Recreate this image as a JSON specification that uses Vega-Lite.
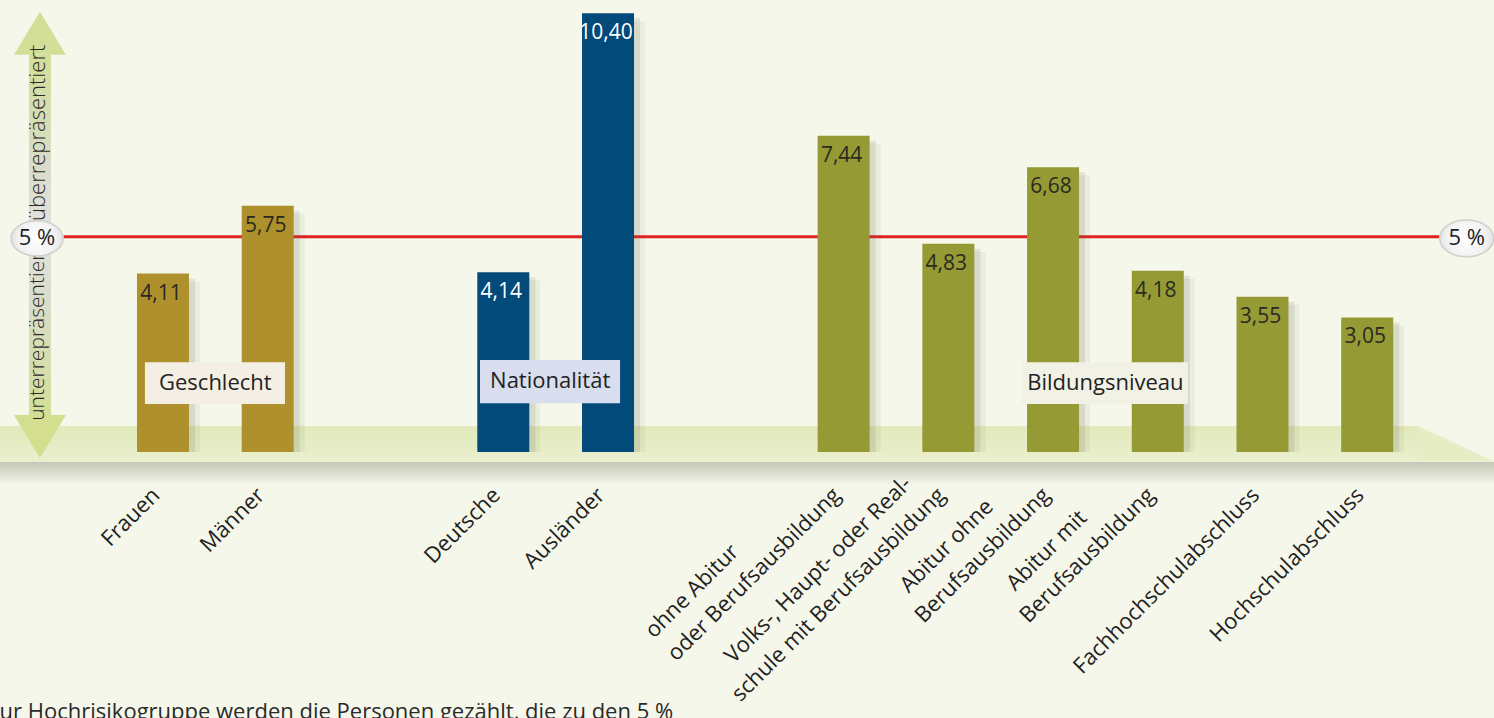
{
  "$schema": "https://vega.github.io/schema/vega-lite/v6.json",
  "width": 1466,
  "height": 452,
  "autosize": {"type": "none"},
  "padding": {"left": 19, "right": 9, "top": 0, "bottom": 266},
  "background": "#f5f7ea",
  "config": {
    "view": {"stroke": null},
    "font": "Open Sans",
    "axisY": {"disable": true},
    "locale": {"number": {"decimal": ",", "thousands": ".", "grouping": [3], "currency": ["", " €"]}}
  },
  "data": {"values": [
    {"kategorie": "Frauen", "wert": 4.11, "gruppe": "Geschlecht"},
    {"kategorie": "Männer", "wert": 5.75, "gruppe": "Geschlecht"},
    {"kategorie": "Deutsche", "wert": 4.14, "gruppe": "Nationalität"},
    {"kategorie": "Ausländer", "wert": 10.40, "gruppe": "Nationalität"},
    {"kategorie": "ohne Abitur\noder Berufsausbildung", "wert": 7.44, "gruppe": "Bildungsniveau"},
    {"kategorie": "Volks-, Haupt- oder Real-\nschule mit Berufsausbildung", "wert": 4.83, "gruppe": "Bildungsniveau"},
    {"kategorie": "Abitur ohne\nBerufsausbildung", "wert": 6.68, "gruppe": "Bildungsniveau"},
    {"kategorie": "Abitur mit\nBerufsausbildung", "wert": 4.18, "gruppe": "Bildungsniveau"},
    {"kategorie": "Fachhochschulabschluss", "wert": 3.55, "gruppe": "Bildungsniveau"},
    {"kategorie": "Hochschulabschluss", "wert": 3.05, "gruppe": "Bildungsniveau"}
  ]},
  "layer": [
    {
      "data": {"values": [{}]},
      "mark": {"type": "rect", "fill": {"gradient": "linear", "x1": 0, "y1": 0, "x2": 0, "y2": 1, "stops": [{"offset": 0, "color": "#c4c7b6"}, {"offset": 1, "color": "#f5f7ea"}]}},
      "encoding": {
        "x": {"datum": "_0", "type": "nominal", "bandPosition": -0.73},
        "x2": {"datum": "_55", "bandPosition": 1.4},
        "y": {"datum": -0.44, "type": "quantitative"},
        "y2": {"datum": -1.0}
      }
    },
    {
      "data": {"values": [{}]},
      "mark": {"type": "rect", "fill": {"gradient": "linear", "x1": 0, "y1": 0, "x2": 0, "y2": 1, "stops": [{"offset": 0, "color": "#e2e9bb"}, {"offset": 1, "color": "#eaf0cd"}]}},
      "encoding": {
        "x": {"datum": "_0", "type": "nominal", "bandPosition": -0.73},
        "x2": {"datum": "_53", "bandPosition": 0.46},
        "y": {"datum": 0.43, "type": "quantitative"},
        "y2": {"datum": -0.44}
      }
    },
    {
      "data": {"values": [{}]},
      "mark": {"type": "point", "shape": "M-1,-0.47L1,0.47L-1,0.47Z", "size": 5776, "filled": true, "fill": "#e6edc4", "opacity": 1, "strokeWidth": 0},
      "encoding": {
        "x": {"datum": "_54", "type": "nominal", "bandPosition": 0.89},
        "y": {"datum": 0.0, "type": "quantitative"}
      }
    },
    {
      "data": {"values": [{}]},
      "mark": {"type": "rule", "color": "#e2231d", "strokeWidth": 3},
      "encoding": {
        "x": {"datum": "_1", "type": "nominal", "bandPosition": 0.7},
        "x2": {"datum": "_54", "bandPosition": 0.35},
        "y": {"datum": 5, "type": "quantitative"}
      }
    },
    {
      "mark": {"type": "bar", "width": 52, "xOffset": 11, "yOffset": 8, "color": "#5d5f4c", "opacity": 0.07},
      "encoding": {
        "x": {"field": "kategorie", "type": "nominal"},
        "y": {"field": "wert", "type": "quantitative"},
        "y2": {"datum": -0.2}
      }
    },
    {
      "mark": {"type": "bar", "width": 52, "xOffset": 6, "yOffset": 5, "color": "#5d5f4c", "opacity": 0.13},
      "encoding": {
        "x": {"field": "kategorie", "type": "nominal"},
        "y": {"field": "wert", "type": "quantitative"},
        "y2": {"datum": -0.2}
      }
    },
    {
      "mark": {"type": "bar", "width": 52},
      "encoding": {
        "x": {
          "field": "kategorie", "type": "nominal", "title": null,
          "scale": {"domain": ["_0","_1","_2","_3","_4","Frauen","_6","_7","_8","Männer","_10","_11","_12","_13","_14","_15","_16","_17","Deutsche","_19","_20","_21","Ausländer","_23","_24","_25","_26","_27","_28","_29","_30","ohne Abitur\noder Berufsausbildung","_32","_33","_34","Volks-, Haupt- oder Real-\nschule mit Berufsausbildung","_36","_37","_38","Abitur ohne\nBerufsausbildung","_40","_41","_42","Abitur mit\nBerufsausbildung","_44","_45","_46","Fachhochschulabschluss","_48","_49","_50","Hochschulabschluss","_52","_53","_54","_55"], "paddingInner": 0, "paddingOuter": 0},
          "axis": {
            "domain": false, "ticks": false, "labelAngle": -45, "labelAlign": "right", "labelBaseline": "bottom",
            "labelPadding": 25, "labelOffset": -21, "labelFontSize": 22, "labelColor": "#222222", "labelLimit": 700, "labelOverlap": false,
            "labelLineHeight": 32, "labelFont": "Open Sans",
            "labelExpr": "slice(datum.label, 0, 1) === '_' ? '' : (indexof(datum.label, '\\n') < 0 ? ['', datum.label] : [pad(split(datum.label, '\\n')[0], length(split(datum.label, '\\n')[0]) + round(0.69 * (length(split(datum.label, '\\n')[1]) - length(split(datum.label, '\\n')[0]))), '\u2800'), split(datum.label, '\\n')[1]])"
          }
        },
        "y": {"field": "wert", "type": "quantitative", "scale": {"domain": [-0.2, 10.72], "nice": false, "zero": false}},
        "y2": {"datum": -0.2},
        "color": {"field": "gruppe", "type": "nominal", "legend": null,
          "scale": {"domain": ["Geschlecht", "Nationalität", "Bildungsniveau"], "range": ["#ae912c", "#024a79", "#959a35"]}}
      }
    },
    {
      "mark": {"type": "text", "baseline": "top", "dy": 9, "dx": -2, "fontSize": 21, "fontWeight": 500},
      "encoding": {
        "x": {"field": "kategorie", "type": "nominal"},
        "y": {"field": "wert", "type": "quantitative"},
        "text": {"field": "wert", "type": "quantitative", "format": ".2f"},
        "color": {"condition": {"test": "datum.gruppe === 'Nationalität'", "value": "#ffffff"}, "value": "#2a2a20"}
      }
    },
    {
      "data": {"values": [{}]},
      "mark": {"type": "rect", "fill": "#f3efe4"},
      "encoding": {
        "x": {"datum": "_4", "type": "nominal", "bandPosition": 0.81},
        "x2": {"datum": "_10", "bandPosition": 0.16},
        "y": {"datum": 1.97, "type": "quantitative"},
        "y2": {"datum": 0.96}
      }
    },
    {
      "data": {"values": [{}]},
      "mark": {"type": "rect", "fill": "#d9deef"},
      "encoding": {
        "x": {"datum": "_17", "type": "nominal", "bandPosition": 0.61},
        "x2": {"datum": "Ausländer", "bandPosition": 0.96},
        "y": {"datum": 2.02, "type": "quantitative"},
        "y2": {"datum": 0.98}
      }
    },
    {
      "data": {"values": [{}]},
      "mark": {"type": "rect", "fill": "#f2f1e6"},
      "encoding": {
        "x": {"datum": "_38", "type": "nominal", "bandPosition": 0.31},
        "x2": {"datum": "_44", "bandPosition": 0.65},
        "y": {"datum": 1.97, "type": "quantitative"},
        "y2": {"datum": 0.96}
      }
    },
    {
      "data": {"values": [{}]},
      "mark": {"type": "text", "text": "Geschlecht", "fontSize": 22, "color": "#222222"},
      "encoding": {
        "x": {"datum": "_7", "type": "nominal"},
        "y": {"datum": 1.47, "type": "quantitative"}
      }
    },
    {
      "data": {"values": [{}]},
      "mark": {"type": "text", "text": "Nationalität", "fontSize": 22, "color": "#222222"},
      "encoding": {
        "x": {"datum": "_20", "type": "nominal", "bandPosition": 0.29},
        "y": {"datum": 1.51, "type": "quantitative"}
      }
    },
    {
      "data": {"values": [{}]},
      "mark": {"type": "text", "text": "Bildungsniveau", "fontSize": 22, "color": "#222222"},
      "encoding": {
        "x": {"datum": "_41", "type": "nominal"},
        "y": {"datum": 1.47, "type": "quantitative"}
      }
    },
    {
      "data": {"values": [{}]},
      "mark": {"type": "rect", "fill": {"gradient": "linear", "x1": 0, "y1": 0, "x2": 0, "y2": 1, "stops": [{"offset": 0, "color": "#d3df98"}, {"offset": 0.3, "color": "#d9dcc8"}, {"offset": 0.5, "color": "#e2e2e0"}, {"offset": 0.7, "color": "#d9dcc8"}, {"offset": 1, "color": "#d3df98"}]}},
      "encoding": {
        "x": {"datum": "_0", "type": "nominal", "bandPosition": 0.38},
        "x2": {"datum": "_1", "bandPosition": 0.22},
        "y": {"datum": 9.39, "type": "quantitative"},
        "y2": {"datum": 0.69}
      }
    },
    {
      "data": {"values": [{}]},
      "mark": {"type": "point", "shape": "M-1,0.8L0,-0.85L1,0.8Z", "size": 2704, "filled": true, "fill": "#d3df96", "opacity": 1, "strokeWidth": 0},
      "encoding": {
        "x": {"datum": "_0", "type": "nominal", "bandPosition": 0.8},
        "y": {"datum": 9.9, "type": "quantitative"}
      }
    },
    {
      "data": {"values": [{}]},
      "mark": {"type": "point", "shape": "M-1,-0.8L0,0.85L1,-0.8Z", "size": 2704, "filled": true, "fill": "#d3df8e", "opacity": 1, "strokeWidth": 0},
      "encoding": {
        "x": {"datum": "_0", "type": "nominal", "bandPosition": 0.8},
        "y": {"datum": 0.19, "type": "quantitative"}
      }
    },
    {
      "data": {"values": [{}]},
      "mark": {"type": "text", "text": "überrepräsentiert", "angle": 270, "fontSize": 22, "fontWeight": 300, "color": "#2a2a2a"},
      "encoding": {
        "x": {"datum": "_0", "type": "nominal", "bandPosition": 0.73},
        "y": {"datum": 7.51, "type": "quantitative"}
      }
    },
    {
      "data": {"values": [{}]},
      "mark": {"type": "text", "text": "unterrepräsentiert", "angle": 270, "fontSize": 21, "fontWeight": 300, "color": "#2a2a2a"},
      "encoding": {
        "x": {"datum": "_0", "type": "nominal", "bandPosition": 0.73},
        "y": {"datum": 2.67, "type": "quantitative"}
      }
    },
    {
      "data": {"values": [{}]},
      "mark": {"type": "point", "shape": "M-1,0A1,0.68,0,1,1,1,0A1,0.68,0,1,1,-1,0Z", "size": 2704, "filled": true, "opacity": 1, "stroke": "#cfd0cc", "strokeWidth": 1.5,
        "fill": {"gradient": "radial", "x1": 0.5, "y1": 0.5, "r1": 0, "x2": 0.5, "y2": 0.5, "r2": 0.6, "stops": [{"offset": 0, "color": "#ffffff"}, {"offset": 0.6, "color": "#f2f2f2"}, {"offset": 1, "color": "#d6d6d6"}]}},
      "encoding": {
        "x": {"datum": "_0", "type": "nominal", "bandPosition": 0.69},
        "y": {"datum": 4.96, "type": "quantitative"}
      }
    },
    {
      "data": {"values": [{}]},
      "mark": {"type": "point", "shape": "M-1,0A1,0.68,0,1,1,1,0A1,0.68,0,1,1,-1,0Z", "size": 2916, "filled": true, "opacity": 1, "stroke": "#cfd0cc", "strokeWidth": 1.5,
        "fill": {"gradient": "radial", "x1": 0.5, "y1": 0.5, "r1": 0, "x2": 0.5, "y2": 0.5, "r2": 0.6, "stops": [{"offset": 0, "color": "#ffffff"}, {"offset": 0.6, "color": "#f2f2f2"}, {"offset": 1, "color": "#d6d6d6"}]}},
      "encoding": {
        "x": {"datum": "_55", "type": "nominal", "bandPosition": 0.3},
        "y": {"datum": 4.96, "type": "quantitative"}
      }
    },
    {
      "data": {"values": [{}]},
      "mark": {"type": "text", "text": "5 %", "fontSize": 22, "color": "#222222"},
      "encoding": {
        "x": {"datum": "_0", "type": "nominal", "bandPosition": 0.69},
        "y": {"datum": 4.96, "type": "quantitative"}
      }
    },
    {
      "data": {"values": [{}]},
      "mark": {"type": "text", "text": "5 %", "fontSize": 22, "color": "#222222"},
      "encoding": {
        "x": {"datum": "_55", "type": "nominal", "bandPosition": 0.3},
        "y": {"datum": 4.96, "type": "quantitative"}
      }
    },
    {
      "data": {"values": [{}]},
      "mark": {"type": "text", "text": "Zur Hochrisikogruppe werden die Personen gezählt, die zu den 5 %", "align": "left", "baseline": "alphabetic", "dx": -32, "fontSize": 22, "color": "#2a2a2a"},
      "encoding": {
        "x": {"datum": "_0", "type": "nominal", "bandPosition": 0},
        "y": {"datum": -6.65, "type": "quantitative"}
      }
    }
  ]
}
